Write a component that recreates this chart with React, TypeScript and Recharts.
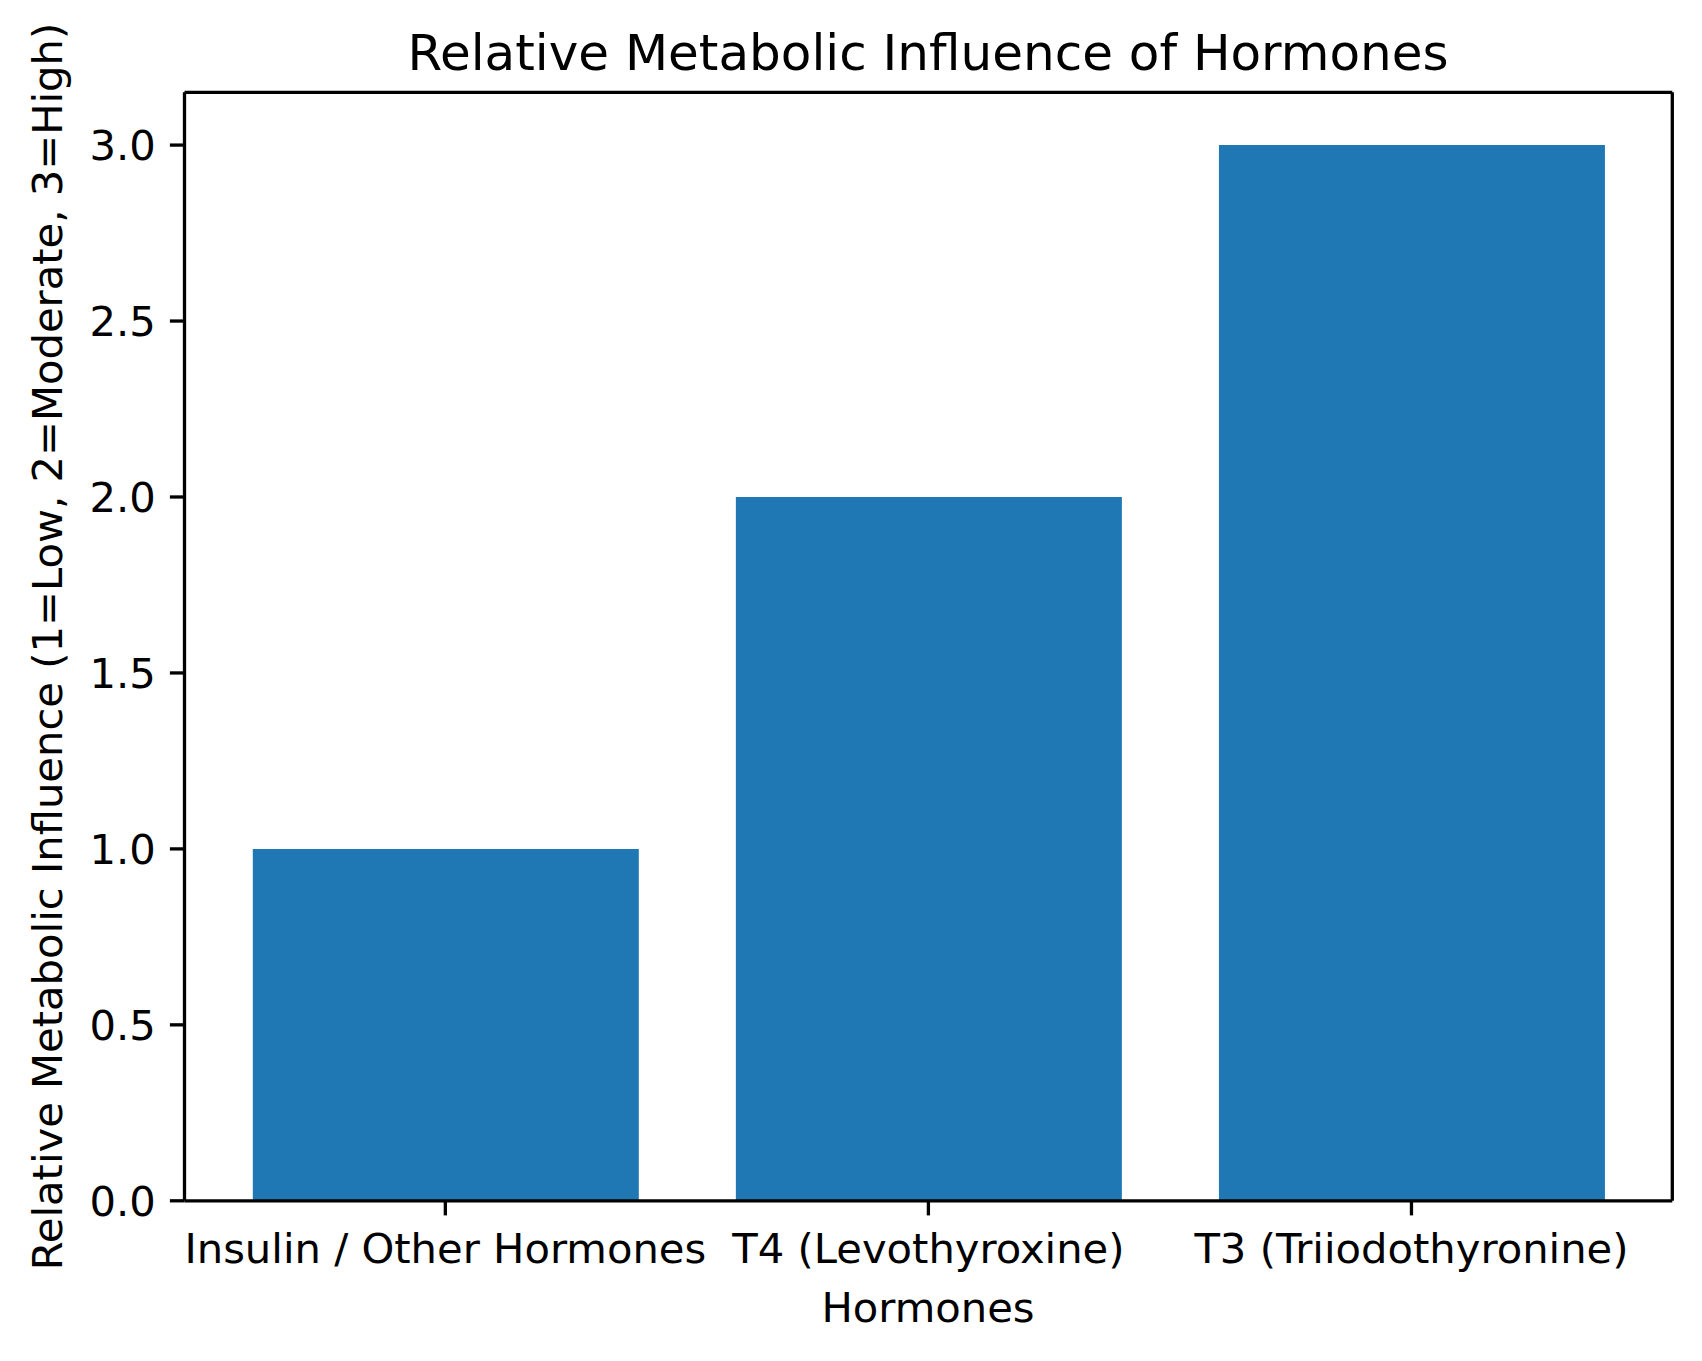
import { BarChart, Bar, XAxis, YAxis } from "recharts";

const hormones = [
  "Insulin / Other Hormones",
  "T4 (Levothyroxine)",
  "T3 (Triiodothyronine)",
];
const influence = [1, 2, 3];
const yTicks = [0, 0.5, 1, 1.5, 2, 2.5, 3];

const data = hormones.map((name, i) => ({ name, value: influence[i] }));

const FONT = "DejaVu Sans";
const W = 1702;
const H = 1361;

const App = () => {
  const tickStyle = { fill: "#000", fontSize: 41.7, fontFamily: FONT };
  const line = { stroke: "#000", strokeWidth: 3.3 };
  return (
    <div
      style={{
        position: "absolute",
        left: 0,
        top: 0,
        width: W,
        height: H,
        background: "#fff",
      }}
    >
      <BarChart
        width={W}
        height={H}
        data={data}
        margin={{ top: 82.3, right: 19.7, bottom: 60.2, left: 84.5 }}
      >
        <XAxis
          dataKey="name"
          height={100}
          interval={0}
          padding={{ left: 19.3, right: 19.3 }}
          tick={tickStyle}
          tickSize={14.6}
          tickMargin={18}
          tickLine={line}
          axisLine={line}
        />
        {/* top spine */}
        <XAxis
          xAxisId="top"
          orientation="top"
          dataKey="name"
          height={10}
          tick={false}
          tickLine={false}
          axisLine={line}
        />
        <YAxis
          type="number"
          domain={[0, 3.15]}
          ticks={yTicks}
          width={100}
          tickFormatter={(v: number) => v.toFixed(1)}
          tick={tickStyle}
          tickSize={14.6}
          tickMargin={14}
          tickLine={line}
          axisLine={line}
        />
        {/* right spine */}
        <YAxis
          yAxisId="right"
          orientation="right"
          type="number"
          domain={[0, 3.15]}
          width={10}
          tick={false}
          tickLine={false}
          axisLine={line}
        />
        <Bar dataKey="value" fill="#1f77b4" barSize={386} isAnimationActive={false} />
      </BarChart>
      <svg
        width={W}
        height={H}
        style={{ position: "absolute", left: 0, top: 0, pointerEvents: "none" }}
      >
        <text x={928} y={70} textAnchor="middle" fontSize={50} fontFamily={FONT} fill="#000">
          Relative Metabolic Influence of Hormones
        </text>
        <text x={928} y={1321.7} textAnchor="middle" fontSize={41.7} fontFamily={FONT} fill="#000">
          Hormones
        </text>
        <text
          x={61.7}
          y={646.5}
          textAnchor="middle"
          fontSize={41.7}
          fontFamily={FONT}
          fill="#000"
          transform="rotate(-90 61.7 646.5)"
        >
          Relative Metabolic Influence (1=Low, 2=Moderate, 3=High)
        </text>
      </svg>
    </div>
  );
};

export default App;
